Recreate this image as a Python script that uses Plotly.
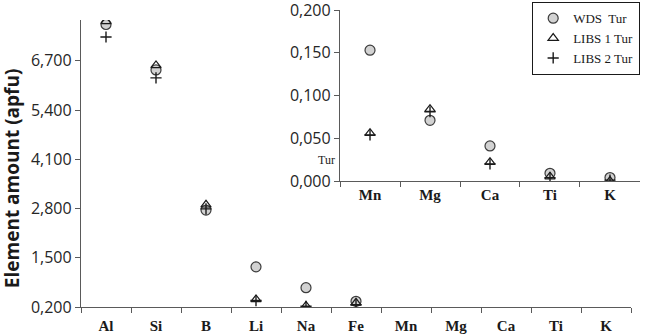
import plotly.graph_objects as go

# Element categories
major_elements = ["Al", "Si", "B", "Li", "Na", "Fe"]
minor_elements = ["Mn", "Mg", "Ca", "Ti", "K"]
all_elements = major_elements + minor_elements

# Major elements (apfu)
wds_major = [7.66, 6.46, 2.76, 1.26, 0.71, 0.35]
libs1_major = [7.74, 6.58, 2.90, 0.40, 0.23, 0.31]
libs2_major = [7.33, 6.25, 2.79, 0.37, 0.22, 0.26]

# Minor elements (apfu), shown in the inset
wds_minor = [0.153, 0.071, 0.041, 0.009, 0.004]
libs1_minor = [0.056, 0.084, 0.022, 0.005, 0.000]
libs2_minor = [0.054, 0.081, 0.020, 0.004, 0.001]

series_names = ["WDS  Tur", "LIBS 1 Tur", "LIBS 2 Tur"]

AXIS_COLOR = "#5a5a5a"
TEXT_COLOR = "#262626"

circle_marker = dict(symbol="circle", size=10, color="#d2d2d2",
                     line=dict(color="#3c3c3c", width=1.2))
triangle_marker = dict(symbol="triangle-up-open", size=9, color="#1a1a1a",
                       line=dict(width=1.2))
plus_marker = dict(symbol="cross-thin-open", size=8, color="#1a1a1a",
                   line=dict(color="#1a1a1a", width=1.4))
markers = [circle_marker, triangle_marker, plus_marker]

fig = go.Figure()

for name, vals, mk in zip(series_names, [wds_major, libs1_major, libs2_major], markers):
    fig.add_trace(go.Scatter(x=major_elements, y=vals, mode="markers", name=name,
                             marker=mk, xaxis="x", yaxis="y"))

for name, vals, mk in zip(series_names, [wds_minor, libs1_minor, libs2_minor], markers):
    fig.add_trace(go.Scatter(x=minor_elements, y=vals, mode="markers", name=name,
                             marker=mk, xaxis="x2", yaxis="y2", showlegend=False))

main_yticks = [0.2, 1.5, 2.8, 4.1, 5.4, 6.7]
main_ytext = ["0,200", "1,500", "2,800", "4,100", "5,400", "6,700"]
inset_yticks = [0.0, 0.05, 0.10, 0.15, 0.20]
inset_ytext = ["0,000", "0,050", "0,100", "0,150", "0,200"]

tick_font = dict(family="Open Sans", size=16, color=TEXT_COLOR)
cat_font = dict(family="Liberation Serif", size=15, color="#1a1a1a")

common_x = dict(type="category", showline=True, linecolor=AXIS_COLOR, linewidth=1.3,
                ticks="outside", tickson="boundaries", ticklen=5, tickcolor=AXIS_COLOR,
                tickwidth=1.3, showgrid=False, zeroline=False, tickfont=cat_font,
                fixedrange=True, ticklabeloverflow="allow")
common_y = dict(showline=True, linecolor=AXIS_COLOR, linewidth=1.3, ticks="outside",
                ticklen=5, tickcolor=AXIS_COLOR, tickwidth=1.3, showgrid=False,
                zeroline=False, tickfont=tick_font, fixedrange=True,
                ticklabeloverflow="allow")

fig.update_layout(
    width=650, height=335,
    margin=dict(l=81, r=8, t=8, b=28, autoexpand=False),
    paper_bgcolor="white", plot_bgcolor="rgba(0,0,0,0)",
    xaxis=dict(common_x, domain=[0, 0.9804], categoryorder="array",
               categoryarray=all_elements, range=[-0.5, 10.5],
               tickvals=all_elements, ticktext=["<b>%s</b>" % e for e in all_elements],
               ticklabelstandoff=5),
    yaxis=dict(common_y, domain=[0, 0.96], range=[0.2, 7.78], tickvals=main_yticks,
               ticktext=main_ytext),
    xaxis2=dict(common_x, domain=[0.4617, 0.9964], anchor="y2", categoryorder="array",
                categoryarray=minor_elements, range=[-0.5, 4.5],
                tickvals=minor_elements, ticktext=["<b>%s</b>" % e for e in minor_elements]),
    yaxis2=dict(common_y, domain=[0.4214, 0.9933], anchor="x2", range=[0, 0.2],
                tickvals=inset_yticks, ticktext=inset_ytext),
    legend=dict(x=0.9964, y=1.02, xanchor="right", yanchor="top",
                bgcolor="white", bordercolor="#1a1a1a", borderwidth=1.2,
                font=dict(family="Liberation Serif", size=13, color="#1a1a1a"),
                itemwidth=30, tracegroupgap=0),
    annotations=[
        dict(text="<b>Element amount (apfu)</b>", xref="paper", yref="paper",
             x=-0.123, y=0.431, xanchor="center", yanchor="middle", textangle=-90,
             showarrow=False, font=dict(family="Open Sans", size=19, color="#1a1a1a")),
        dict(text="Tur", xref="paper", yref="paper", x=0.438, y=0.4916,
             showarrow=False, font=dict(family="Liberation Serif", size=12,
                                        color="#1a1a1a")),
    ],
)

fig.write_html("out.html")
